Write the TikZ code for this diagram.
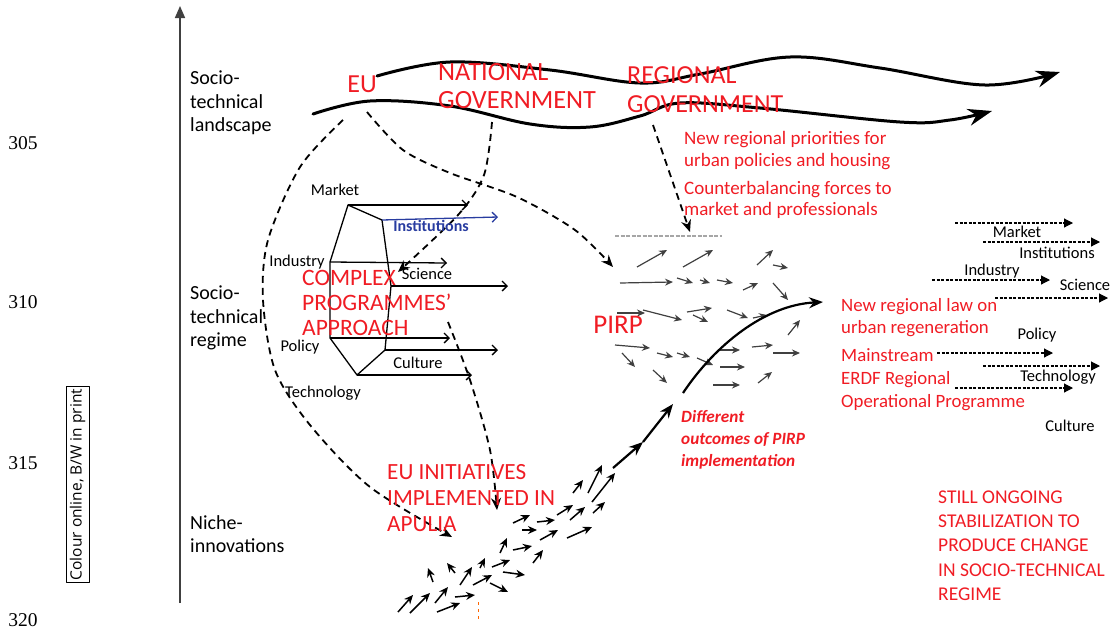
\documentclass[tikz,border=0pt]{standalone}
\usepackage{fontspec}
\setmainfont{Carlito}
\newfontfamily\numfont{Liberation Serif}
\newfontfamily\notefont{Open Sans}
\usetikzlibrary{arrows.meta,positioning}
\definecolor{redtxt}{RGB}{240,28,36}
\definecolor{instblue}{RGB}{40,60,160}
\tikzset{
  lvl/.style={align=left, inner sep=0pt, anchor=west, font=\fontsize{20}{23.5}\selectfont},
  redcap/.style={text=redtxt, align=left, inner sep=0pt, anchor=west},
  dimlbl/.style={inner sep=0pt, font=\fontsize{16.5}{18}\selectfont},
  linenum/.style={inner sep=0pt, font=\numfont\fontsize{19.5}{20}\selectfont},
  wave/.style={line width=3pt, line cap=round, -{Stealth[length=24pt,width=17pt]}},
  influence/.style={line width=1.8pt, dash pattern=on 7pt off 5pt, -{Stealth[length=12pt,width=10pt]}},
  dimarr/.style={line width=1.3pt, -{Straight Barb[length=5pt,width=10pt]}},
  fieldarr/.style={line width=1.2pt, black!75, -{Stealth[length=8pt,width=7pt]}},
  nicharr/.style={line width=1.5pt, -{Stealth[length=9pt,width=8pt]}},
  chainarr/.style={line width=2.2pt, -{Stealth[length=14pt,width=11pt]}},
  regarr/.style={line width=1.1pt, dash pattern=on 3pt off 1.5pt, -{Triangle[length=9pt,width=9pt]}},
}
\begin{document}
\begin{tikzpicture}[x=1pt, y=-1pt, line join=round]
	\useasboundingbox (0,0) rectangle (1116,630);
	% margin of the page
	\foreach \n/\y in {305/143,310/302,315/463,320/620}
		\node[linenum] (num\n) at (23,\y) {\n};
	\node[draw, line width=0.8pt, rotate=90, inner sep=2pt, minimum height=23pt,
		font=\notefont\fontsize{15.5}{17}\selectfont] (note) at (77.5,484.5) {Colour online, B/W in print};
	% levels
	\coordinate (axisbot) at (180,603);
	\coordinate (axistop) at (180,6);
	\draw[line width=1.6pt, black!75, -{Triangle[length=12pt,width=10pt]}] (axisbot) -- (axistop);
	\node[lvl] (landscape) at (190,103) {Socio-\\technical\\landscape};
	\node[lvl] (regime) at (190,318) {Socio-\\technical\\regime};
	\node[lvl] (niche) at (190,534) {Niche-\\innovations};
	% landscape waves
	\draw[wave] plot[smooth, tension=0.6] coordinates {(377,76) (450,62) (550,70) (640,83) (700,74) (790,57) (880,68) (985,85) (1060,72)};
	\draw[wave] plot[smooth, tension=0.6] coordinates {(313,114) (370,101) (450,106) (530,124) (590,127) (640,116) (680,103) (760,108) (900,122) (950,120) (992,111)};
	\node[redcap, font=\fontsize{26}{28}\selectfont, anchor=center] (eu) at (362,84) {EU};
	\node[redcap, font=\fontsize{26.3}{28}\selectfont] (natgov) at (438,86) {NATIONAL\\GOVERNMENT};
	\node[redcap, font=\fontsize{26}{29}\selectfont] (reggov) at (627,89.5) {REGIONAL\\GOVERNMENT};
	\node[redcap, font=\fontsize{19}{21.5}\selectfont] (priorities) at (684,150.5) {New regional priorities for\\urban policies and housing};
	\node[redcap, font=\fontsize{19}{21.5}\selectfont] (counter) at (684,200) {Counterbalancing forces to\\market and professionals};
	% influences
	\coordinate (euL) at (343,120);
	\coordinate (euR) at (367,112);
	\coordinate (natD) at (492,122);
	\coordinate (regD) at (653,125);
	\coordinate (cpaD) at (448,322);
	\draw[influence] plot[smooth] coordinates {(euL) (300,167) (268,240) (263,300) (275,370) (310,425) (370,487) (452,537)};
	\draw[influence] plot[smooth] coordinates {(euR) (403,150) (450,173) (517,197) (575,230) (613,267)};
	\draw[influence] plot[smooth] coordinates {(natD) (484,175) (458,215) (398,272)};
	\draw[influence] plot[smooth] coordinates {(cpaD) (470,380) (490,450) (497,510)};
	\draw[influence] (regD) -- (690,232);
	% regime hexagon
	\draw[line width=1.3pt] (348,205) coordinate (hMkt) -- (382,220) coordinate (hIns)
		-- (391,286) coordinate (hSci) -- (385,350) coordinate (hCul)
		-- (357,375) coordinate (hTec) -- (330,338) coordinate (hPol)
		-- (330,262) coordinate (hInd) -- cycle;
	\draw[dimarr] (hMkt) -- (468,205);
	\draw[dimarr, instblue] (hIns) -- (498,217);
	\draw[dimarr] (hInd) -- (447,263);
	\draw[dimarr] (hSci) -- (508,286);
	\draw[dimarr] (hPol) -- (450,338);
	\draw[dimarr] (hCul) -- (498,350);
	\draw[dimarr] (hTec) -- (472,375);
	\node[dimlbl] (mkt) at (335,190) {Market};
	\node[dimlbl, text=instblue, font=\bfseries\fontsize{16}{18}\selectfont] (ins) at (431,226) {Institutions};
	\node[dimlbl] (ind) at (297,262) {Industry};
	\node[dimlbl] (sci) at (427,274) {Science};
	\node[dimlbl] (pol) at (300,347) {Policy};
	\node[dimlbl] (cul) at (418,363) {Culture};
	\node[dimlbl] (tec) at (323,393) {Technology};
	\node[redcap, font=\fontsize{23.5}{25}\selectfont] (cpa) at (302,303) {COMPLEX\\PROGRAMMES’\\APPROACH};
	% PIRP field
	\draw[black!35, line width=1.5pt, dash pattern=on 4pt off 1.5pt] (615,236) -- (722,236);
	\foreach \a/\b/\c/\d in {637/267/667/250, 683/267/713/250, 757/265/773/250, 773/265/788/268,
		620/283/673/282, 677/278/693/283, 700/280/710/283, 717/280/733/283, 743/290/758/283,
		773/283/788/300, 643/310/682/320, 617/313/645/313, 687/312/712/308, 693/315/708/322,
		727/310/748/318, 753/318/767/315, 788/335/800/320, 615/345/650/348, 622/353/635/367,
		657/353/673/357, 677/353/690/357, 697/358/713/365, 720/350/740/350, 752/347/773/345,
		773/353/800/353, 720/367/745/367, 653/370/667/383, 713/385/740/385, 758/383/772/372}
		\draw[fieldarr] (\a,\b) -- (\c,\d);
	\node[redcap, font=\fontsize{27}{30}\selectfont, anchor=center] (pirp) at (618,325) {PIRP};
	% niche arrows
	\foreach \a/\b/\c/\d in {398/612/413/595, 410/613/430/593, 437/612/460/603, 435/603/448/587,
		455/597/475/595, 460/585/472/567, 433/582/428/568, 455/573/447/563, 473/585/492/575,
		490/583/508/592, 480/568/485/558, 492/567/510/560, 503/572/525/575, 500/553/507/538,
		513/550/532/546, 533/563/543/550, 513/523/530/515, 522/530/537/530, 537/522/555/520,
		540/540/558/530, 557/515/573/505, 567/538/592/527, 570/520/585/507, 573/493/583/480,
		588/493/602/465, 592/502/615/473, 593/513/605/502}
		\draw[nicharr] (\a,\b) -- (\c,\d);
	\draw[orange!80!red, line width=1pt, dash pattern=on 3pt off 4pt] (478,602) -- (478,622);
	\node[redcap, font=\fontsize{23.2}{26}\selectfont] (euinit) at (387,498) {EU INITIATIVES\\IMPLEMENTED IN\\APULIA};
	% trajectory
	\coordinate (tr0) at (613,468);
	\coordinate (tr1) at (643,442);
	\coordinate (tr2) at (673,404);
	\coordinate (tr3) at (683,393);
	\coordinate (tr4) at (823,302);
	\draw[chainarr] (tr0) -- (tr1);
	\draw[chainarr] (tr1) -- (tr2);
	\draw[chainarr] (tr3) .. controls (715,345) and (765,305) .. (tr4);
	\node[redcap, font=\bfseries\itshape\fontsize{17.2}{22}\selectfont] (outcomes) at (681,440) {Different\\outcomes of PIRP\\implementation};
	% new regime
	\node[redcap, font=\fontsize{18.8}{21.5}\selectfont] (law) at (841,317.5) {New regional law on\\urban regeneration};
	\node[redcap, font=\fontsize{18.8}{23}\selectfont] (erdf) at (841,380) {Mainstream\\ERDF Regional\\Operational Programme};
	\foreach \a/\b/\c in {955/1073/223, 983/1100/242, 932/1050/280, 995/1108/298,
		937/1053/353, 983/1100/366, 955/1073/388}
		\draw[regarr] (\a,\c) -- (\b,\c);
	\node[dimlbl] (mkt2) at (1017,232) {Market};
	\node[dimlbl] (ins2) at (1057,253) {Institutions};
	\node[dimlbl] (ind2) at (992,271) {Industry};
	\node[dimlbl] (sci2) at (1085,285) {Science};
	\node[dimlbl] (pol2) at (1037,335) {Policy};
	\node[dimlbl] (tec2) at (1058,377) {Technology};
	\node[dimlbl] (cul2) at (1070,426) {Culture};
	\node[redcap, font=\fontsize{19.5}{24.3}\selectfont] (ongoing) at (938,545.5) {STILL ONGOING\\STABILIZATION TO\\PRODUCE CHANGE\\IN SOCIO-TECHNICAL\\REGIME};
\end{tikzpicture}
\end{document}
